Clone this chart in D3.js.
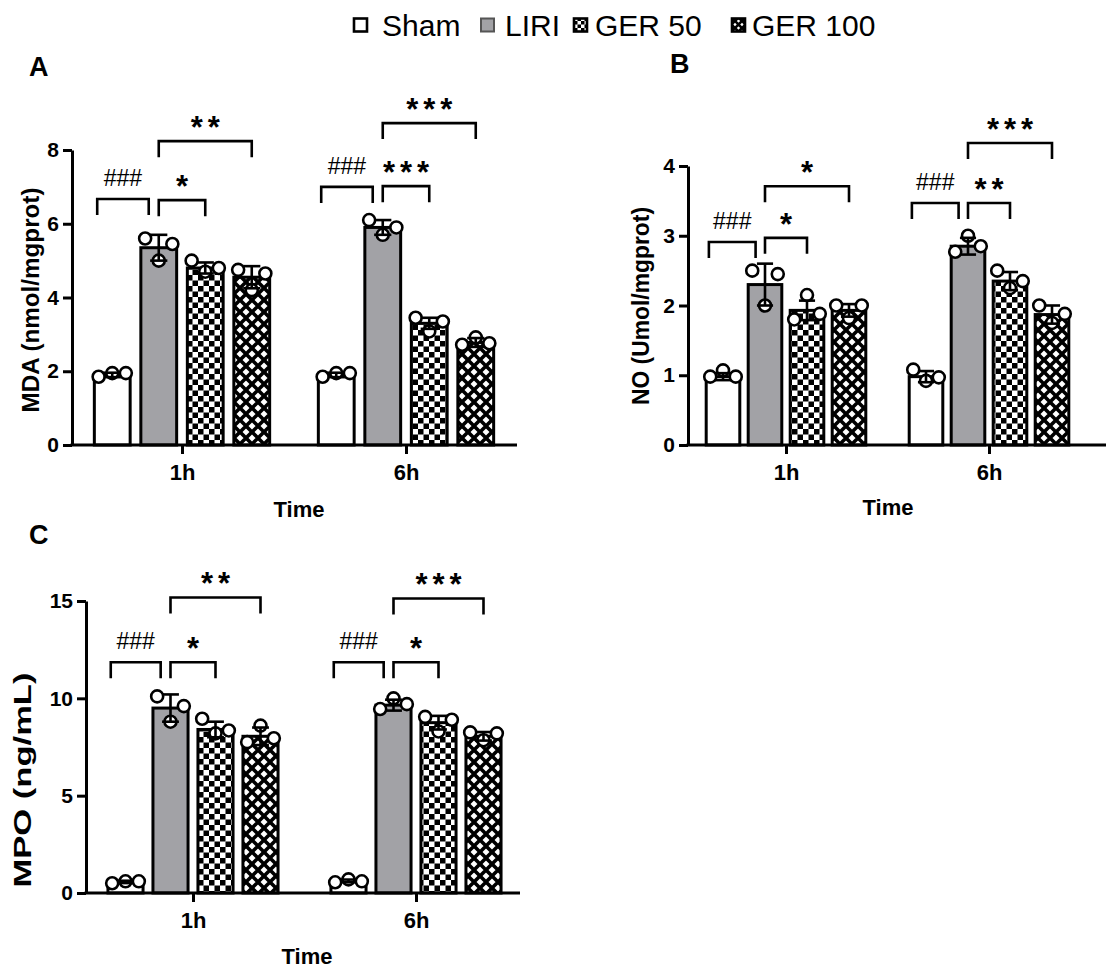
<!DOCTYPE html>
<html>
<head>
<meta charset="utf-8">
<script src="https://cdn.jsdelivr.net/npm/d3@7"></script>
<style>
  body { margin: 0; background: #fff; }
  svg { font-family: Arial, "Liberation Sans", sans-serif; }
</style>
</head>
<body>
<svg id="fig" width="1107" height="969"></svg>
<script>
// ---- data ----
const groups = ["Sham", "LIRI", "GER 50", "GER 100"];
const times = ["1h", "6h"];

// A: MDA (nmol/mgprot)  [time][group]
const mdaMean = [[1.9, 5.35, 4.8, 4.55], [1.9, 5.9, 3.3, 2.78]];
const mdaSd = [[0.06, 0.35, 0.15, 0.3], [0.06, 0.2, 0.15, 0.12]];
const mdaPoints = [
  [[1.85, 1.95, 1.95], [5.6, 5.0, 5.45], [5.0, 4.7, 4.8], [4.75, 4.2, 4.65]],
  [[1.85, 1.95, 1.95], [6.1, 5.7, 5.9], [3.45, 3.08, 3.35], [2.72, 2.92, 2.76]]
];
// [time, group a, group b, bracket height, label]
const mdaSig = [
  [0, 0, 1, 6.67, "###"], [0, 1, 2, 6.64, "*"], [0, 1, 3, 8.24, "**"],
  [1, 0, 1, 7.0, "###"], [1, 1, 2, 7.02, "***"], [1, 1, 3, 8.73, "***"]
];

// B: NO (Umol/mgprot)
const noMean = [[0.98, 2.3, 1.93, 1.93], [0.98, 2.85, 2.35, 1.87]];
const noSd = [[0.05, 0.3, 0.14, 0.09], [0.08, 0.12, 0.13, 0.13]];
const noPoints = [
  [[0.98, 1.07, 0.98], [2.5, 2.0, 2.45], [1.8, 2.15, 1.88], [2.0, 1.82, 2.0]],
  [[1.08, 0.92, 0.97], [2.77, 3.0, 2.85], [2.5, 2.25, 2.35], [2.0, 1.75, 1.88]]
];
const noSig = [
  [0, 0, 1, 2.91, "###"], [0, 1, 2, 2.97, "*"], [0, 1, 3, 3.71, "*"],
  [1, 0, 1, 3.47, "###"], [1, 1, 2, 3.47, "**"], [1, 1, 3, 4.33, "***"]
];

// C: MPO (ng/mL)
const mpoMean = [[0.57, 9.5, 8.4, 8.05], [0.62, 9.65, 8.75, 8.05]];
const mpoSd = [[0.06, 0.7, 0.4, 0.45], [0.07, 0.28, 0.35, 0.22]];
const mpoPoints = [
  [[0.5, 0.6, 0.6], [10.1, 8.8, 9.6], [8.95, 8.2, 8.35], [7.75, 8.6, 7.95]],
  [[0.55, 0.7, 0.6], [9.45, 10.0, 9.7], [9.05, 8.3, 8.9], [8.25, 7.85, 8.2]]
];
const mpoSig = [
  [0, 0, 1, 11.85, "###"], [0, 1, 2, 11.85, "*"], [0, 1, 3, 15.18, "**"],
  [1, 0, 1, 11.85, "###"], [1, 1, 2, 11.85, "*"], [1, 1, 3, 15.13, "***"]
];

const yTicksA = [0, 2, 4, 6, 8];
const yTicksB = [0, 1, 2, 3, 4];
const yTicksC = [0, 5, 10, 15];

// ---- layout ----
const gray = "#a2a2a6";
const svg = d3.select("svg#fig");
const defs = svg.append("defs");

// checkerboard fill for GER 50
function checker(id, c) {
  const p = defs.append("pattern").attr("id", id).attr("patternUnits", "userSpaceOnUse")
    .attr("width", 2 * c).attr("height", 2 * c);
  p.append("rect").attr("width", 2 * c).attr("height", 2 * c).attr("fill", "#fff");
  p.append("rect").attr("width", c).attr("height", c).attr("fill", "#000");
  p.append("rect").attr("x", c).attr("y", c).attr("width", c).attr("height", c).attr("fill", "#000");
}
// crosshatch (white diamonds) fill for GER 100
function hatch(id, s, w) {
  const p = defs.append("pattern").attr("id", id).attr("patternUnits", "userSpaceOnUse")
    .attr("width", s).attr("height", s);
  p.append("rect").attr("width", s).attr("height", s).attr("fill", "#fff");
  p.append("path").attr("d", `M0,0L${s},${s}M${s},0L0,${s}`)
    .attr("stroke", "#000").attr("stroke-width", w);
}
checker("chk", 5.5);
hatch("dia", 12, 3.6);
checker("chkS", 3.5);
hatch("diaS", 7, 2.6);

const fills = ["#fff", gray, "url(#chk)", "url(#dia)"];

function drawPanel(cfg, means, sds, points, sig, ticks) {
  const g = svg.append("g");

  const y = d3.scaleLinear().domain([0, ticks[ticks.length - 1]]).range([cfg.y0, cfg.yTop]);
  const xt = d3.scalePoint().domain(times).range(cfg.centers);
  const xg = d3.scaleBand().domain(groups)
    .range([-2 * cfg.step, 2 * cfg.step]).paddingInner(cfg.pad).paddingOuter(cfg.pad / 2);
  const bw = xg.bandwidth();
  const cx = (t, k) => xt(times[t]) + xg(groups[k]) + bw / 2;

  // flatten to one record per bar
  const bars = [];
  times.forEach((tm, t) => groups.forEach((gr, k) => {
    bars.push({ t: t, k: k, mean: means[t][k], sd: sds[t][k], pts: points[t][k] });
  }));

  // bars
  g.selectAll("rect.bar").data(bars).enter().append("rect")
    .attr("class", "bar")
    .attr("x", d => cx(d.t, d.k) - bw / 2)
    .attr("width", bw)
    .attr("y", d => y(d.mean))
    .attr("height", d => y(0) - y(d.mean))
    .attr("fill", d => fills[d.k])
    .attr("stroke", "#000").attr("stroke-width", 3);

  // individual points
  const offs = [-0.38, 0, 0.38];
  bars.forEach(d => {
    g.selectAll(null).data(d.pts).enter().append("circle")
      .attr("cx", (v, i) => cx(d.t, d.k) + offs[i] * bw)
      .attr("cy", v => y(v))
      .attr("r", 6)
      .attr("fill", "#fff").attr("stroke", "#000").attr("stroke-width", 2.6);
  });

  // mean +/- SD
  const cap = bw * 0.24;
  const eb = g.selectAll("g.err").data(bars).enter().append("g").attr("class", "err")
    .attr("stroke", "#000").attr("stroke-width", 2.6);
  eb.append("line")
    .attr("x1", d => cx(d.t, d.k)).attr("x2", d => cx(d.t, d.k))
    .attr("y1", d => y(d.mean + d.sd)).attr("y2", d => y(d.mean - d.sd));
  eb.append("line")
    .attr("x1", d => cx(d.t, d.k) - cap).attr("x2", d => cx(d.t, d.k) + cap)
    .attr("y1", d => y(d.mean + d.sd)).attr("y2", d => y(d.mean + d.sd));
  eb.append("line")
    .attr("x1", d => cx(d.t, d.k) - cap).attr("x2", d => cx(d.t, d.k) + cap)
    .attr("y1", d => y(d.mean - d.sd)).attr("y2", d => y(d.mean - d.sd));

  // significance brackets
  sig.forEach(s => {
    let x1 = cx(s[0], s[1]), x2 = cx(s[0], s[2]);
    if (s[1] === 0) { x1 -= 0.42 * bw; x2 -= 0.28 * bw; }
    const top = y(s[3]);
    g.append("path")
      .attr("d", `M${x1},${top + 16}V${top}H${x2}V${top + 16}`)
      .attr("fill", "none").attr("stroke", "#000").attr("stroke-width", 2.6);
    const hash = s[4].charAt(0) === "#";
    g.append("text")
      .attr("x", (x1 + x2) / 2 + (hash ? 0 : 2.5))
      .attr("y", hash ? top - 13 : top - 3)
      .attr("text-anchor", "middle")
      .attr("font-size", hash ? 23 : 31)
      .attr("font-weight", hash ? "normal" : "bold")
      .attr("letter-spacing", hash ? 0 : 5)
      .text(s[4]);
  });

  // y axis
  const ya = g.append("g").attr("transform", translate(cfg.x0, 0))
    .call(d3.axisLeft(y).tickValues(ticks).tickFormat(d3.format("d"))
      .tickSize(9).tickSizeOuter(0).tickPadding(4));
  ya.select(".domain").attr("stroke-width", 3);
  ya.selectAll(".tick line").attr("stroke-width", 3);
  ya.selectAll(".tick text").attr("font-size", 21).attr("font-weight", "bold")
    .attr("font-family", "Arial, 'Liberation Sans', sans-serif").attr("fill", "#000");

  // x axis (baseline drawn across the panel, ticks at time points)
  g.append("line").attr("x1", cfg.x0 - 1.5).attr("x2", cfg.xEnd)
    .attr("y1", cfg.y0).attr("y2", cfg.y0)
    .attr("stroke", "#000").attr("stroke-width", 3);
  const xa = g.append("g").attr("transform", translate(0, cfg.y0))
    .call(d3.axisBottom(xt).tickSize(9).tickPadding(10));
  xa.select(".domain").remove();
  xa.selectAll(".tick line").attr("stroke-width", 3);
  xa.selectAll(".tick text").attr("font-size", 22).attr("font-weight", "bold")
    .attr("font-family", "Arial, 'Liberation Sans', sans-serif").attr("fill", "#000");

  // titles
  g.append("text").attr("x", cfg.timeX).attr("y", cfg.timeY)
    .attr("text-anchor", "middle").attr("font-size", 22).attr("font-weight", "bold")
    .text("Time");
  g.append("text")
    .attr("transform", translate(cfg.labX, cfg.labY) + " rotate(-90)")
    .attr("text-anchor", "middle").attr("dy", "0.35em")
    .attr("font-size", 23).attr("font-weight", "bold")
    .attr("textLength", cfg.labLen).attr("lengthAdjust", "spacingAndGlyphs")
    .text(cfg.label);
  g.append("text").attr("x", cfg.letX).attr("y", cfg.letY)
    .attr("font-size", 27).attr("font-weight", "bold").text(cfg.letter);
}

drawPanel({
  letter: "A", letX: 29, letY: 76, label: "MDA (nmol/mgprot)",
  labX: 31, labY: 300, labLen: 225,
  x0: 72, xEnd: 517, y0: 445, yTop: 150,
  centers: [182, 406], step: 46.5, pad: 0.23,
  timeX: 299, timeY: 517
}, mdaMean, mdaSd, mdaPoints, mdaSig, yTicksA);

drawPanel({
  letter: "B", letX: 670, letY: 73, label: "NO (Umol/mgprot)",
  labX: 641, labY: 306, labLen: 198,
  x0: 688, xEnd: 1106, y0: 445, yTop: 166,
  centers: [786, 989], step: 42, pad: 0.2,
  timeX: 888, timeY: 515
}, noMean, noSd, noPoints, noSig, yTicksB);

drawPanel({
  letter: "C", letX: 29, letY: 544, label: "MPO (ng/mL)",
  labX: 23, labY: 780, labLen: 215,
  x0: 86, xEnd: 520, y0: 893, yTop: 601,
  centers: [193, 416], step: 45, pad: 0.22,
  timeX: 307, timeY: 964
}, mpoMean, mpoSd, mpoPoints, mpoSig, yTicksC);

// ---- legend ----
const legX = [[354, 382], [481, 505], [574, 595], [732, 752]];
const legFill = ["#fff", gray, "url(#chkS)", "url(#diaS)"];
const leg = svg.append("g");
groups.forEach((name, k) => {
  leg.append("rect")
    .attr("x", legX[k][0]).attr("y", 18.5).attr("width", 13).attr("height", 13)
    .attr("fill", legFill[k])
    .attr("stroke", k === 1 ? "#555" : "#000").attr("stroke-width", k === 1 ? 2 : 2.6);
  leg.append("text").attr("x", legX[k][1]).attr("y", 35.5)
    .attr("font-size", 30).text(name);
});

function translate(x, y) {
  return "translate(" + String(x) + "," + String(y) + ")";
}
</script>
</body>
</html>
